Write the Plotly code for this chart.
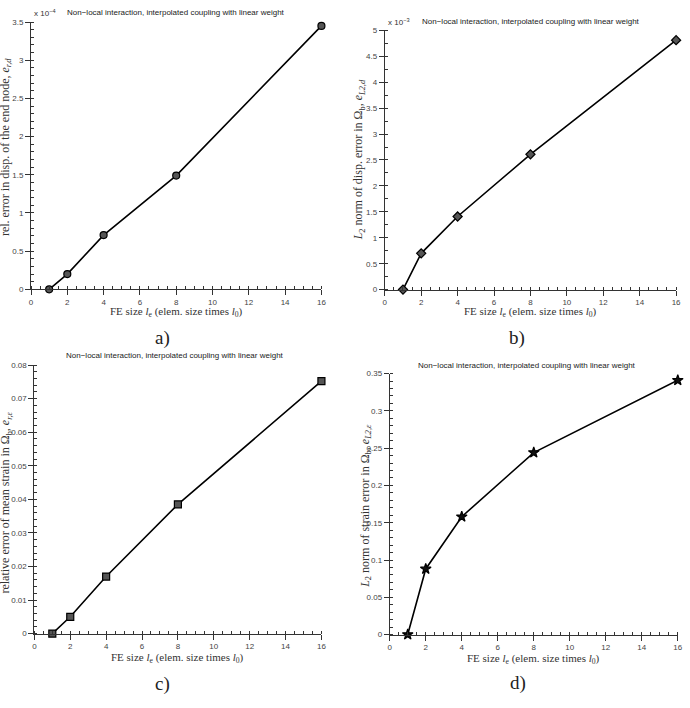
import plotly.graph_objects as go

W, H = 690, 708

fe_size = [1, 2, 4, 8, 16]
err_end_node = [0.0, 0.2, 0.71, 1.49, 3.45]        # x 1e-4
err_l2_disp = [0.0, 0.70, 1.41, 2.61, 4.81]        # x 1e-3
err_mean_strain = [0.0, 0.005, 0.017, 0.0385, 0.0752]
err_l2_strain = [0.0, 0.088, 0.158, 0.244, 0.341]

title_txt = "Non\u2212local interaction, interpolated coupling with linear weight"
xlab = "FE size <i>l</i><sub>e</sub> (elem. size times <i>l</i><sub>0</sub>)"

panels = [
    dict(y=err_end_node, sym="circle", fill="#555", px=(29.3, 322.7), py=(289, 18.3), yr=(0, 3.5),
         dt=0.5, mdt=0.1, ylab="rel. error in disp. of the end node, <i>e</i><sub><i>r,d</i></sub>",
         ylx=4, yly=145, mult="x 10<sup>\u22124</sup>", multpos=(30, 9), tpos=(176, 9), xlpos=(176, 312),
         sub="a)", subpos=(162, 338)),
    dict(y=err_l2_disp, sym="diamond", fill="#555", px=(386.7, 681), py=(289.3, 26.7), yr=(0, 5),
         dt=0.5, mdt=0.25, ylab="<i>L</i><sub>2</sub> norm of disp. error in \u03a9<sub>b</sub>, <i>e</i><sub><i>L2,d</i></sub>",
         ylx=361, yly=158, mult="x 10<sup>\u22123</sup>", multpos=(388, 18), tpos=(534, 18), xlpos=(534, 312),
         sub="b)", subpos=(520, 338)),
    dict(y=err_mean_strain, sym="square", fill="#555", px=(32.7, 322.7), py=(637.7, 365.7), yr=(0, 0.08),
         dt=0.01, mdt=0.002, ylab="relative error of mean strain in \u03a9<sub>b</sub>, <i>e</i><sub><i>r,\u03b5</i></sub>",
         ylx=4, yly=505, mult=None, multpos=None, tpos=(175, 356), xlpos=(177, 662),
         sub="c)", subpos=(162, 689)),
    dict(y=err_l2_strain, sym="star", fill="#111", px=(391.7, 682.7), py=(638.7, 374.3), yr=(0, 0.35),
         dt=0.05, mdt=0.01, ylab="<i>L</i><sub>2</sub> norm of strain error in \u03a9<sub>b</sub>, <i>e</i><sub><i>L2,\u03b5</i></sub>",
         ylx=367, yly=508, mult=None, multpos=None, tpos=(530, 366), xlpos=(537, 663),
         sub="d)", subpos=(521, 688)),
]

fig = go.Figure()
annos = []
tick_font = dict(family="Liberation Sans, Arial", size=8, color="#444")
serif = "Liberation Serif, DejaVu Serif, serif"

for i, p in enumerate(panels):
    n = "" if i == 0 else str(i + 1)
    xa, ya = "x" + n, "y" + n
    fig.add_trace(go.Scatter(
        x=fe_size, y=p["y"], xaxis=xa, yaxis=ya, mode="lines+markers",
        line=dict(color="black", width=1.6),
        marker=dict(symbol=p["sym"], size=7 if p["sym"] != "star" else 8, color=p["fill"],
                    line=dict(color="black", width=1.2)),
        showlegend=False, cliponaxis=False))
    axcommon = dict(showline=True, linecolor="#333", linewidth=1, showgrid=False, zeroline=False,
                    ticks="outside", ticklen=5, tickcolor="#333", tickfont=tick_font)
    fig.layout["xaxis" + n] = dict(
        domain=[p["px"][0] / W, p["px"][1] / W], range=[0, 16], anchor=ya,
        tickmode="linear", tick0=0, dtick=2,
        minor=dict(ticks="inside", ticklen=3, tickcolor="#333", dtick=0.5, tick0=0),
        **axcommon)
    fig.layout["yaxis" + n] = dict(
        domain=[1 - p["py"][0] / H, 1 - p["py"][1] / H], range=list(p["yr"]), anchor=xa,
        tickmode="linear", tick0=0, dtick=p["dt"],
        minor=dict(ticks="inside", ticklen=3, tickcolor="#333", dtick=p["mdt"], tick0=0),
        **axcommon)
    annos.append(dict(text=title_txt, x=p["tpos"][0] / W, y=1 - p["tpos"][1] / H, xref="paper", yref="paper",
                      showarrow=False, xanchor="center", yanchor="middle",
                      font=dict(family="Liberation Sans, Arial", size=8, color="#222")))
    annos.append(dict(text=xlab, x=p["xlpos"][0] / W, y=1 - p["xlpos"][1] / H, xref="paper", yref="paper",
                      showarrow=False, xanchor="center", yanchor="middle",
                      font=dict(family=serif, size=11, color="#333")))
    annos.append(dict(text=p["ylab"], x=p["ylx"] / W, y=1 - p["yly"] / H, xref="paper", yref="paper",
                      showarrow=False, xanchor="center", yanchor="middle", textangle=-90,
                      font=dict(family=serif, size=12, color="#333")))
    annos.append(dict(text=p["sub"], x=p["subpos"][0] / W, y=1 - p["subpos"][1] / H, xref="paper", yref="paper",
                      showarrow=False, xanchor="center", yanchor="middle",
                      font=dict(family=serif, size=19, color="#222")))
    if p["mult"]:
        annos.append(dict(text=p["mult"], x=p["multpos"][0] / W, y=1 - p["multpos"][1] / H, xref="paper",
                          yref="paper", showarrow=False, xanchor="left", yanchor="middle",
                          font=dict(family="Liberation Sans, Arial", size=8, color="#333")))

fig.update_layout(width=W, height=H, margin=dict(l=0, r=0, t=0, b=0),
                  paper_bgcolor="white", plot_bgcolor="white", annotations=annos)
fig.write_html("out.html")
